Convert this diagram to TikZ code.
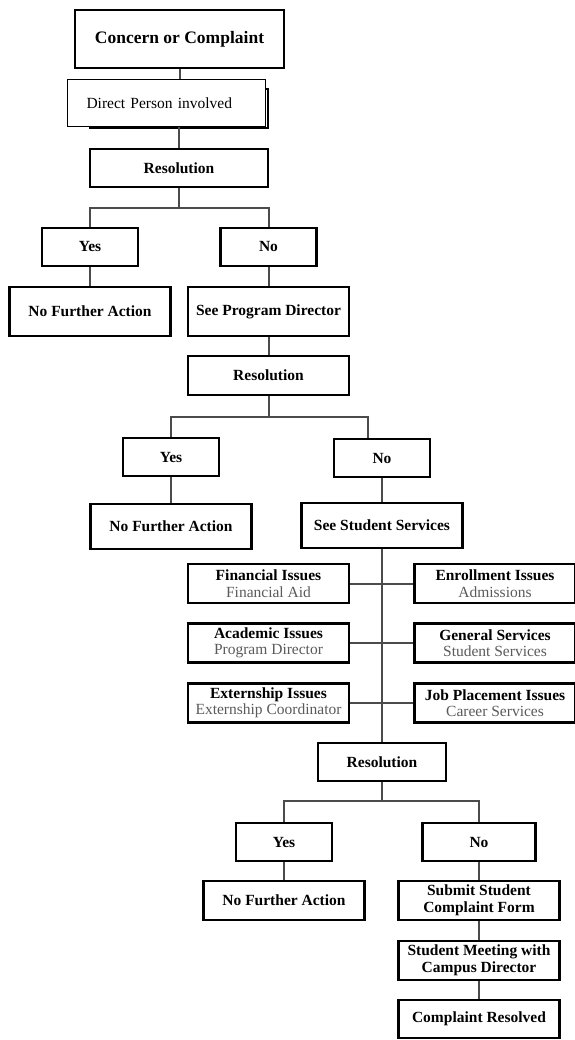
\documentclass[tikz,border=0pt]{standalone}
\usepackage{fontspec}
\setmainfont{Liberation Serif}
\usetikzlibrary{positioning,calc}
\definecolor{linegrey}{RGB}{75,75,75}
\definecolor{subgrey}{RGB}{90,90,90}
\newcommand{\boxfont}{\bfseries\fontsize{15.5}{16.5}\selectfont}
\newcommand{\twoline}[2]{#1\\{\mdseries\color{subgrey}#2}}
\tikzset{
  box/.style={draw=black,fill=white,line width=2.4pt,align=center,inner sep=1pt,font=\boxfont},
  yn/.style={box,minimum width=96pt,minimum height=38pt},
  wide/.style={box,minimum width=161pt,minimum height=39pt},
  note/.style={draw=black,fill=white,line width=0.8pt,align=left,inner xsep=19pt,
               text width=160pt,minimum height=47pt,font=\fontsize{15.5}{17}\selectfont},
  link/.style={draw=linegrey,line width=2pt}
}
\begin{document}
\begin{tikzpicture}[x=1pt,y=-1pt]
    \useasboundingbox (0,0) rectangle (574,1040);
    % --- first contact
    \node[box,minimum width=209pt,minimum height=58pt,font=\bfseries\fontsize{17.5}{20}\selectfont]
      (concern) at (179.5,39) {Concern or Complaint};
    \node[draw=black,line width=2.4pt,minimum width=178pt,minimum height=39pt] (dshadow) at (179,108.5) {};
    \node[note] (direct) at (166.5,103) {Direct Person involved};
    \node[box,minimum width=178pt,minimum height=38pt] (res1) at (179,168) {Resolution};
    \node[yn] (yes1) at (90,247) {Yes};
    \node[yn] (no1)  at (268.5,247) {No};
    \node[wide,minimum height=49pt] (nfa1) at (90,311.5) {No Further Action};
    \node[wide,minimum height=49pt] (spd)  at (268.5,311.5) {See Program Director};
    \draw[link] (concern.south) -- (concern.south |- direct.north);
    \draw[link] (direct.south -| res1.north) -- (res1.north);
    \coordinate (b1) at (179,208);
    \draw[link] (res1.south) -- (b1) -| (yes1.north);
    \draw[link] (b1) -| (no1.north);
    \draw[link] (yes1) -- (nfa1);
    \draw[link] (no1) -- (spd);
    % --- program director
    \node[wide] (res2) at (268.5,375.5) {Resolution};
    \node[yn] (yes2) at (171,457) {Yes};
    \node[yn] (no2)  at (382,458) {No};
    \node[wide,minimum height=45pt] (nfa2) at (171,526.5) {No Further Action};
    \node[wide,minimum height=45pt] (sss)  at (382,525.5) {See Student Services};
    \draw[link] (spd) -- (res2);
    \coordinate (b2) at (268.5,417);
    \coordinate (b2r) at (368,417);
    \draw[link] (res2.south) -- (b2) -| (yes2.north);
    \draw[link] (b2) -- (b2r) -- (b2r |- no2.north);
    \draw[link] (yes2) -- (nfa2);
    \draw[link] (no2) -- (sss);
    % --- student services
    \node[box,minimum width=128pt,minimum height=38pt] (res3) at (382,762) {Resolution};
    \draw[link] (sss) -- (res3);
    \node[wide] (fin) at (268.5,583.5) {\twoline{Financial Issues}{Financial Aid}};
    \node[wide] (enr) at (495,583.5)   {\twoline{Enrollment Issues}{Admissions}};
    \node[wide] (aca) at (268.5,643)   {\twoline{Academic Issues}{Program Director}};
    \node[wide] (gen) at (495,643)     {\twoline{General Services}{Student Services}};
    \node[wide] (ext) at (268.5,703)   {\twoline{Externship Issues}{Externship Coordinator}};
    \node[wide] (job) at (495,703)     {\twoline{Job Placement Issues}{Career Services}};
    \draw[link] (fin) -- (enr);
    \draw[link] (aca) -- (gen);
    \draw[link] (ext) -- (job);
    % --- final step
    \node[yn] (yes3) at (284,842) {Yes};
    \node[yn,minimum width=113pt] (no3) at (479,842) {No};
    \node[wide] (nfa3) at (284,900.5) {No Further Action};
    \node[wide] (submit) at (479,900.5) {Submit Student\\Complaint Form};
    \node[wide] (meet)   at (479,960.5) {Student Meeting with\\Campus Director};
    \node[wide,minimum height=38pt] (done) at (479,1019) {Complaint Resolved};
    \coordinate (b3) at (382,801);
    \draw[link] (res3.south) -- (b3) -| (yes3.north);
    \draw[link] (b3) -| (no3.north);
    \draw[link] (yes3) -- (nfa3);
    \draw[link] (no3) -- (submit);
    \draw[link] (submit) -- (meet);
    \draw[link] (meet) -- (done);
  \end{tikzpicture}
\end{document}
